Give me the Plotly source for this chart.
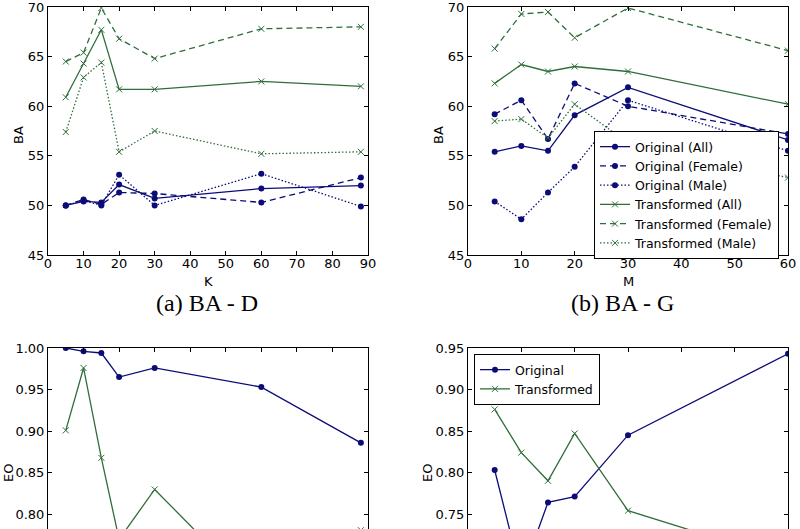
import plotly.graph_objects as go

# ---------------- data ----------------
K = [5, 10, 15, 20, 30, 60, 88]
a_orig_all = [50.0, 50.4, 50.3, 52.1, 50.7, 51.7, 52.0]
a_orig_female = [50.0, 50.6, 50.1, 51.3, 51.2, 50.3, 52.8]
a_orig_male = [50.0, 50.5, 50.0, 53.1, 50.0, 53.2, 49.9]
a_trans_all = [60.9, 64.3, 67.7, 61.7, 61.7, 62.5, 62.0]
a_trans_female = [64.5, 65.4, 69.9, 66.8, 64.8, 67.8, 68.0]
a_trans_male = [57.4, 62.9, 64.4, 55.4, 57.5, 55.2, 55.4]

M = [5, 10, 15, 20, 30, 60]
b_orig_all = [55.4, 56.0, 55.5, 59.1, 61.9, 56.6]
b_orig_female = [59.2, 60.6, 56.7, 62.3, 60.0, 57.2]
b_orig_male = [50.4, 48.6, 51.3, 53.9, 60.6, 55.5]
b_trans_all = [62.3, 64.2, 63.5, 64.0, 63.5, 60.2]
b_trans_female = [65.8, 69.3, 69.5, 66.9, 69.9, 65.6]
b_trans_male = [58.5, 58.7, 56.8, 60.2, 56.3, 52.8]

c_orig = [1.000, 0.996, 0.994, 0.965, 0.976, 0.953, 0.886]
c_trans = [0.901, 0.976, 0.868, 0.770, 0.830, 0.700, 0.781]

d_orig = [0.803, 0.675, 0.764, 0.771, 0.845, 0.943]
d_trans = [0.876, 0.824, 0.790, 0.847, 0.754, 0.694]

series_names = ["Original (All)", "Original (Female)", "Original (Male)",
                "Transformed (All)", "Transformed (Female)", "Transformed (Male)"]
captions = ["(a) BA - D", "(b) BA - G"]

# ---------------- style ----------------
BLUE = "#0c0c78"
GREEN = "#2f6e3a"
FONT = "DejaVu Sans"
W, H = 800, 529

def px_x(p):
    return p / W

def px_y(p):
    return 1 - p / H

dashes = ["solid", "6px,4px", "1.5px,2px"]

fig = go.Figure()

def orig_trace(x, y, name, dash, xa, ya, show, legend="legend"):
    return go.Scatter(x=x, y=y, name=name, mode="lines+markers",
                      line=dict(color=BLUE, width=1.3, dash=dash),
                      marker=dict(symbol="circle", size=6, color=BLUE),
                      xaxis=xa, yaxis=ya, showlegend=show, legend=legend,
                      cliponaxis=True)

def trans_trace(x, y, name, dash, xa, ya, show, legend="legend"):
    return go.Scatter(x=x, y=y, name=name, mode="lines+markers",
                      line=dict(color=GREEN, width=1.3, dash=dash),
                      marker=dict(symbol="x-thin", size=6, color=GREEN,
                                  line=dict(width=1, color=GREEN)),
                      xaxis=xa, yaxis=ya, showlegend=show, legend=legend,
                      cliponaxis=True)

# panel a
for ys, nm, ds in zip([a_orig_all, a_orig_female, a_orig_male], series_names[:3], dashes):
    fig.add_trace(orig_trace(K, ys, nm, ds, "x", "y", False))
for ys, nm, ds in zip([a_trans_all, a_trans_female, a_trans_male], series_names[3:], dashes):
    fig.add_trace(trans_trace(K, ys, nm, ds, "x", "y", False))
# panel b (with legend)
for ys, nm, ds in zip([b_orig_all, b_orig_female, b_orig_male], series_names[:3], dashes):
    fig.add_trace(orig_trace(M, ys, nm, ds, "x2", "y2", True))
for ys, nm, ds in zip([b_trans_all, b_trans_female, b_trans_male], series_names[3:], dashes):
    fig.add_trace(trans_trace(M, ys, nm, ds, "x2", "y2", True))
# panel c
fig.add_trace(orig_trace(K, c_orig, "Original", "solid", "x3", "y3", False))
fig.add_trace(trans_trace(K, c_trans, "Transformed", "solid", "x3", "y3", False))
# panel d
fig.add_trace(orig_trace(M, d_orig, "Original", "solid", "x4", "y4", True, "legend2"))
fig.add_trace(trans_trace(M, d_trans, "Transformed", "solid", "x4", "y4", True, "legend2"))

tickfont = dict(family=FONT, size=13, color="black")

def xax(dom, rng, top=False, anchor="y"):
    d = dict(domain=dom, range=rng, dtick=10, tick0=0, showline=True, linecolor="black",
             linewidth=1, ticks="inside", ticklen=4, tickcolor="black", showgrid=False,
             zeroline=False, tickfont=tickfont, anchor=anchor, automargin=False,
             fixedrange=True, ticklabeloverflow="allow")
    if top:
        d.update(side="top", showticklabels=False, mirror=False)
    else:
        d.update(mirror="ticks", ticklabelstandoff=-4)
    return d

def yax(dom, rng, dtick, fmt, anchor):
    return dict(domain=dom, range=rng, dtick=dtick, tick0=0, showline=True,
                linecolor="black", linewidth=1, ticks="inside", ticklen=4,
                tickcolor="black", showgrid=False, zeroline=False, tickfont=tickfont,
                mirror="ticks", tickformat=fmt, anchor=anchor, automargin=False,
                fixedrange=True, ticklabeloverflow="allow")

xl = [px_x(48), px_x(368)]
xr = [px_x(468), px_x(788)]
yt = [px_y(255), px_y(7)]
yb = [0, px_y(348)]

# visible y range of cropped bottom panels
c_range = [1.00 - (529 - 348) / 832.0, 1.00]
d_range = [0.95 - (529 - 348) / 830.0, 0.95]

fig.update_layout(
    width=W, height=H,
    margin=dict(l=0, r=0, t=0, b=0),
    paper_bgcolor="white", plot_bgcolor="white",
    template="none",
    font=dict(family=FONT, size=12.5, color="black"),
    xaxis=xax(xl, [0, 90], anchor="y"),
    yaxis=yax(yt, [45, 70], 5, "d", "x"),
    xaxis2=xax(xr, [0, 60], anchor="y2"),
    yaxis2=yax(yt, [45, 70], 5, "d", "x2"),
    xaxis3=xax(xl, [0, 90], top=True, anchor="y3"),
    yaxis3=yax(yb, c_range, 0.05, ".2f", "x3"),
    xaxis4=xax(xr, [0, 60], top=True, anchor="y4"),
    yaxis4=yax(yb, d_range, 0.05, ".2f", "x4"),
    legend=dict(x=px_x(594), y=px_y(131), xanchor="left", yanchor="top",
                bgcolor="white", bordercolor="black", borderwidth=1,
                font=dict(family=FONT, size=12.5, color="black"),
                itemwidth=30, tracegroupgap=0, traceorder="normal"),
    legend2=dict(x=px_x(474), y=px_y(354), xanchor="left", yanchor="top",
                 bgcolor="white", bordercolor="black", borderwidth=1,
                 font=dict(family=FONT, size=12.5, color="black"),
                 itemwidth=30, tracegroupgap=0, traceorder="normal"),
    showlegend=True,
)

ann = []
lab = dict(family=FONT, size=13, color="black")
ann.append(dict(text="K", x=px_x(208), y=px_y(281), xref="paper", yref="paper",
                showarrow=False, font=lab, xanchor="center", yanchor="middle"))
ann.append(dict(text="M", x=px_x(628), y=px_y(281), xref="paper", yref="paper",
                showarrow=False, font=lab, xanchor="center", yanchor="middle"))
ann.append(dict(text="BA", x=px_x(18), y=px_y(135), xref="paper", yref="paper",
                showarrow=False, font=lab, textangle=-90, xanchor="center", yanchor="middle"))
ann.append(dict(text="BA", x=px_x(438), y=px_y(135), xref="paper", yref="paper",
                showarrow=False, font=lab, textangle=-90, xanchor="center", yanchor="middle"))
ann.append(dict(text="EO", x=px_x(8), y=px_y(473), xref="paper", yref="paper",
                showarrow=False, font=lab, textangle=-90, xanchor="center", yanchor="middle"))
ann.append(dict(text="EO", x=px_x(427), y=px_y(473), xref="paper", yref="paper",
                showarrow=False, font=lab, textangle=-90, xanchor="center", yanchor="middle"))
cap = dict(family="Liberation Serif", size=24, color="black")
ann.append(dict(text=captions[0], x=px_x(207), y=px_y(303), xref="paper", yref="paper",
                showarrow=False, font=cap, xanchor="center", yanchor="middle"))
ann.append(dict(text=captions[1], x=px_x(622), y=px_y(303), xref="paper", yref="paper",
                showarrow=False, font=cap, xanchor="center", yanchor="middle"))
fig.update_layout(annotations=ann)

fig.write_html("out.html", config=dict(displayModeBar=False),
               post_script="document.body.style.margin='0';document.body.style.overflow='hidden';")
